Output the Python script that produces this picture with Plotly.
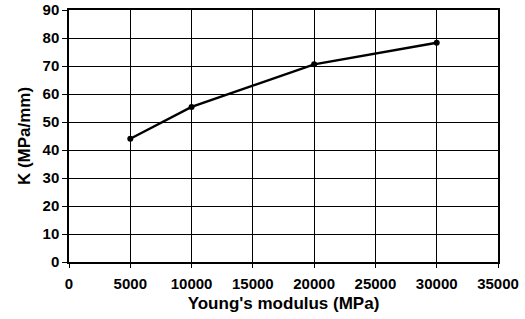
import plotly.graph_objects as go

young_modulus = [5000, 10000, 20000, 30000]
k_values = [44, 55.4, 70.6, 78.3]
x_ticks = [0, 5000, 10000, 15000, 20000, 25000, 30000, 35000]
y_ticks = [0, 10, 20, 30, 40, 50, 60, 70, 80, 90]

fig = go.Figure()
fig.add_trace(go.Scatter(
    x=young_modulus, y=k_values, mode="lines+markers",
    line=dict(color="black", width=2.4),
    marker=dict(color="black", size=6),
    showlegend=False,
))

tick_font = dict(family="Liberation Sans, Arial, sans-serif", size=15, color="black", weight="bold")
title_font = dict(family="Liberation Sans, Arial, sans-serif", size=17, color="black", weight="bold")

fig.update_layout(
    width=525, height=319,
    margin=dict(l=69, r=27, t=10, b=57, autoexpand=False),
    paper_bgcolor="white", plot_bgcolor="white",
    font=tick_font,
    xaxis=dict(
        range=[0, 35000], tickvals=x_ticks, ticktext=[str(v) for v in x_ticks],
        showgrid=True, gridcolor="black", gridwidth=1.3,
        showline=True, linecolor="black", linewidth=1.5, mirror=True,
        ticks="outside", ticklen=4, tickcolor="black", tickwidth=1.3,
        ticklabelstandoff=3,
        zeroline=False, automargin=False,
        title=dict(text="Young's modulus (MPa)", standoff=6, font=title_font),
        tickfont=tick_font,
    ),
    yaxis=dict(
        range=[0, 90], tickvals=y_ticks,
        showgrid=True, gridcolor="black", gridwidth=1.3,
        showline=True, linecolor="black", linewidth=1.5, mirror=True,
        ticks="outside", ticklen=5, tickcolor="black", tickwidth=1.3,
        zeroline=False, automargin=False,
        title=dict(text="K (MPa/mm)", standoff=8, font=title_font),
        tickfont=tick_font,
    ),
)

fig.write_html(
    "out.html",
    config={"displayModeBar": False},
    post_script="document.body.style.margin='0';document.body.style.padding='0';",
)
